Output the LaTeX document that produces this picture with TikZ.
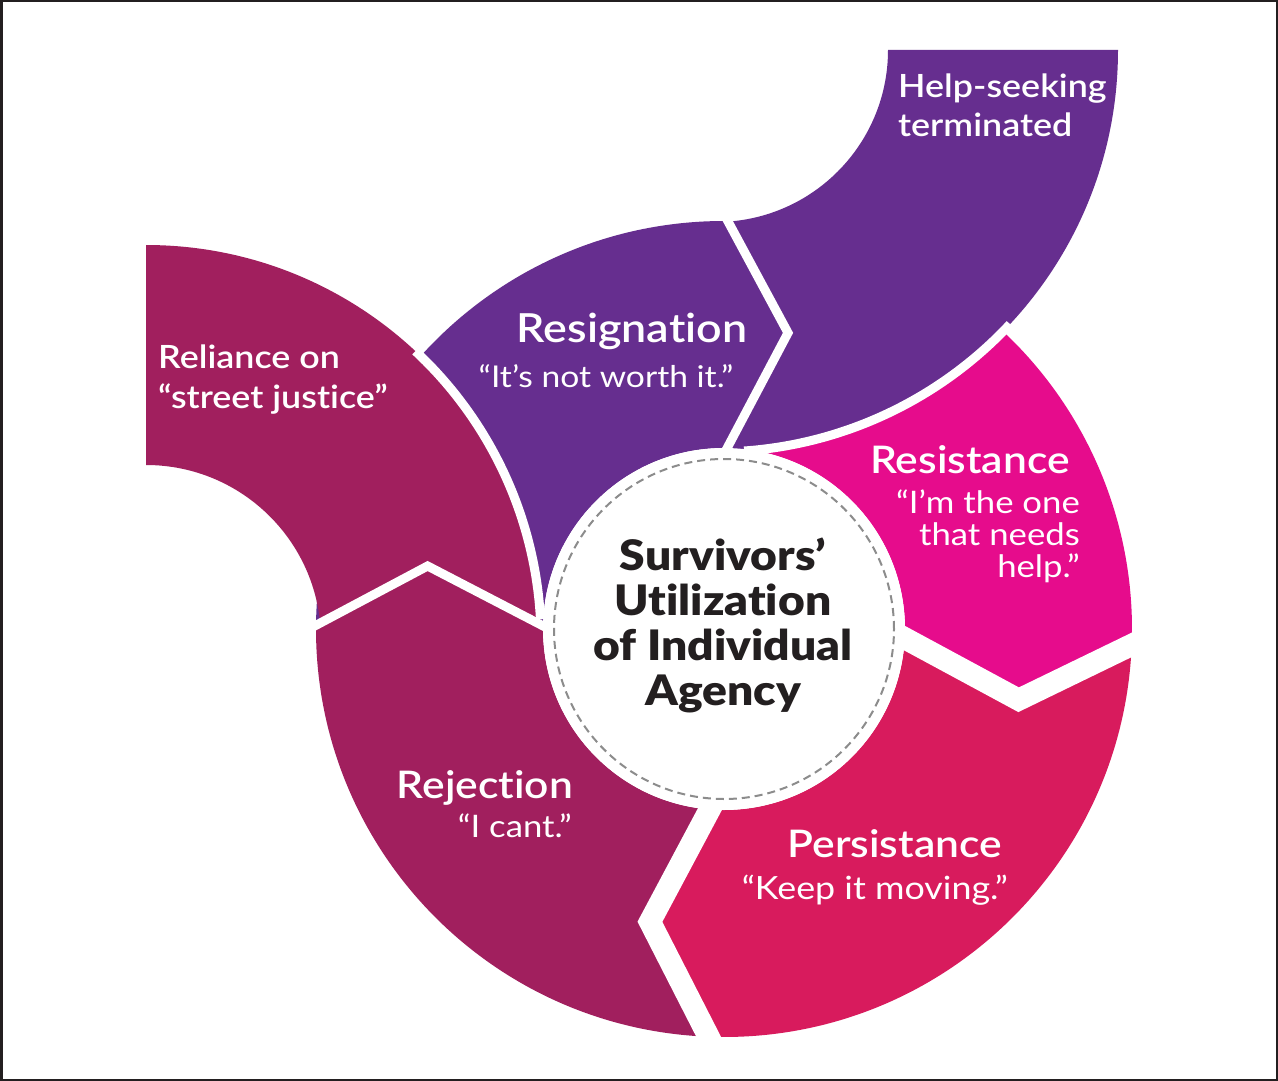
\documentclass[tikz,border=0pt]{standalone}
\usepackage{fontspec}
\setmainfont{Lato}[FakeStretch=1.12,Ligatures=NoCommon]
\IfFontExistsTF{Lato Semibold}{\newfontfamily\mkhead{Lato Semibold}[FakeStretch=1.12,Ligatures=NoCommon]}{\newcommand\mkhead{\bfseries}}
\IfFontExistsTF{Lato Black}{\newfontfamily\ctrfont{Lato Black}[FakeStretch=1.1,Ligatures=NoCommon]}{\newcommand\ctrfont{\bfseries}}
\definecolor{maroonc}{RGB}{161,31,94}
\definecolor{purplec}{RGB}{102,46,143}
\definecolor{magentac}{RGB}{230,12,140}
\definecolor{crimsonc}{RGB}{216,27,93}
\definecolor{dashc}{RGB}{140,140,140}
\definecolor{borderc}{RGB}{35,31,32}
\begin{document}
\begin{tikzpicture}[x=1pt,y=1pt,
  gapthin/.style={draw=white,line width=9,line join=miter},
  gapthick/.style={draw=white,line width=22,line join=miter},
  headbig/.style={text=white,inner sep=0,font=\mkhead\fontsize{38}{40}\selectfont},
  headsmall/.style={text=white,inner sep=0,font=\mkhead\fontsize{32}{34}\selectfont},
  quotetxt/.style={text=white,inner sep=0,font=\fontsize{31}{33}\selectfont},
  ctr/.style={text=borderc,inner sep=0,font=\ctrfont\fontsize{42}{45}\selectfont}]
\useasboundingbox (0,0) rectangle (1278,-1081);
\fill[white] (0,0) rectangle (1278,-1081);
\coordinate (C) at (724,-629);
\coordinate (L) at (146,-640);
\coordinate (H) at (716,-50);
% main ring segments
\begin{scope}[shift={(C)}]
\fill[magentac] (-1.5:408) arc[start angle=-1.5,end angle=90,radius=408] -- (90:181)
  arc[start angle=90,end angle=-1.5,radius=181] -- (-13.5:303) -- cycle;
\fill[crimsonc] (268.6:408) arc[start angle=268.6,end angle=358.5,radius=408] -- (-13.5:303)
  -- (358.5:181) arc[start angle=358.5,end angle=266.8,radius=181] -- (255.8:302) -- cycle;
\end{scope}
% help-seeking band
\begin{scope}[shift={(H)}]
\fill[purplec] (0:172) -- (0:402) arc[start angle=0,end angle=-90,radius=402] -- (-90:172)
  arc[start angle=-90,end angle=0,radius=172] -- cycle;
\end{scope}
\begin{scope}[shift={(C)}]
\fill[purplec] (90:408) -- (77.8:303) -- (90:181) arc[start angle=90,end angle=180,radius=181]
  -- (180:408) arc[start angle=180,end angle=90,radius=408] -- cycle;
\end{scope}
% reliance band
\begin{scope}[shift={(L)}]
\fill[maroonc] (0:175) -- (0:395) arc[start angle=0,end angle=90,radius=395] -- (90:175)
  arc[start angle=90,end angle=0,radius=175] -- cycle;
\end{scope}
\begin{scope}[shift={(C)}]
\fill[maroonc] (180:408) arc[start angle=180,end angle=268.6,radius=408] -- (255.8:302)
  -- (266.8:181) arc[start angle=266.8,end angle=180,radius=181] -- (168:303) -- cycle;
\end{scope}
% centre disk
\fill[white] (C) circle[radius=181];
% white gaps
\begin{scope}[shift={(L)}]
\draw[gapthin] (47:395) arc[start angle=47,end angle=3,radius=395];
\end{scope}
\begin{scope}[shift={(H)}]
\draw[gapthin] (-43:402) arc[start angle=-43,end angle=-86,radius=402];
\end{scope}
\begin{scope}[shift={(C)}]
\draw[gapthin] (180:415) -- (168:303) -- (180:175);
\draw[gapthin] (90:415) -- (77.8:303) -- (90:175);
\draw[gapthick] (-1.5:418) -- (-13.5:303) -- (-1.5:172);
\draw[gapthick] (268.6:418) -- (255.8:302) -- (266.8:172);
\end{scope}
\draw[dashc,line width=2,dash pattern=on 8 off 5] (C) circle[radius=170];
% labels
\node[headsmall,anchor=base west] (relA) at (158,-368) {Reliance on};
\node[headsmall,anchor=base west] (relB) at (158,-408) {“street justice”};
\node[headbig,anchor=base,font=\mkhead\fontsize{40}{42}\selectfont] (resgA) at (632,-342) {Resignation};
\node[quotetxt,anchor=base,font=\fontsize{30}{32}\selectfont] (resgB) at (606,-387) {“It’s not worth it.”};
\node[headsmall,anchor=base west] (helpA) at (898,-98) {Help-seeking};
\node[headsmall,anchor=base west] (helpB) at (898,-136) {terminated};
\node[headbig,anchor=base west] (rstA) at (870,-473) {Resistance};
\node[quotetxt,anchor=base east] (rstB) at (1080,-513) {“I’m the one};
\node[quotetxt,anchor=base east] (rstC) at (1080,-545) {that needs};
\node[quotetxt,anchor=base east] (rstD) at (1080,-577) {help.”};
\node[headbig,anchor=base east] (rejA) at (573,-798) {Rejection};
\node[quotetxt,anchor=base east] (rejB) at (572,-837) {“I cant.”};
\node[headbig,anchor=base east] (perA) at (1002,-857) {Persistance};
\node[quotetxt,anchor=base east,font=\fontsize{32}{34}\selectfont] (perB) at (1008,-899) {“Keep it moving.”};
\node[ctr,anchor=base] (c1) at (723,-570) {Survivors’};
\node[ctr,anchor=base] (c2) at (723,-615) {Utilization};
\node[ctr,anchor=base] (c3) at (723,-660) {of Individual};
\node[ctr,anchor=base] (c4) at (723,-705) {Agency};
\draw[borderc,line width=2.5] (1.25,-1.25) rectangle (1276.75,-1079.75);
\end{tikzpicture}
\end{document}
